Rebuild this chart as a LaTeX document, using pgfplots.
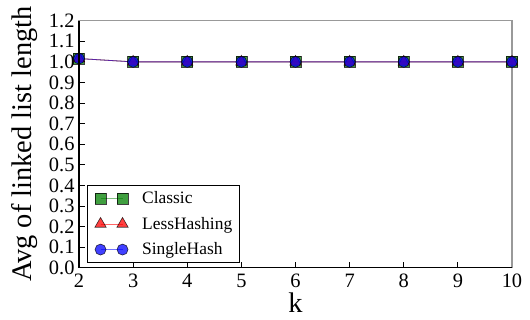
\documentclass[border=0pt]{standalone}
\usepackage{fontspec}
\setmainfont{Liberation Serif}
\usepackage{pgfplots}
\pgfplotsset{compat=1.18}
\definecolor{cgreen}{RGB}{0,128,0}
\definecolor{cred}{RGB}{255,0,0}
\definecolor{cblue}{RGB}{0,0,255}
\newcommand{\lf}{\fontsize{17.5}{17.5}\selectfont}
\begin{document}
\begin{tikzpicture}
\begin{axis}[
  scale only axis, width=433bp, height=247bp,
  xmin=2, xmax=10, ymin=0, ymax=1.2,
  xtick={2,3,4,5,6,7,8,9,10},
  ytick={0,0.1,0.2,0.3,0.4,0.5,0.6,0.7,0.8,0.9,1.0,1.1,1.2},
  yticklabel style={/pgf/number format/fixed, /pgf/number format/fixed zerofill, /pgf/number format/precision=1, xshift=-1bp},
  xticklabel style={yshift=-3bp},
  /pgf/number format/assume math mode=true,
  tick label style={font=\fontsize{20.5}{20.5}\selectfont},
  xtick pos=left, ytick pos=left, tick align=inside,
  major tick length=6bp,
  tick style={black, line width=0.8pt},
  axis line style={gray!80, line width=1.2pt},
  xlabel={k}, ylabel={Avg of linked list length},
  label style={font=\fontsize{28.5}{28.5}\selectfont},
  xlabel style={yshift=2bp},
  ylabel style={yshift=4bp},
  legend cell align=left,
  legend style={at={(0.0185,0.02)}, anchor=south west, draw=black, line width=0.8pt,
    font=\lf, nodes={inner sep=0bp}, row sep=12bp, column sep=14bp,
    inner xsep=7.5bp, inner ysep=6bp},
  legend image code/.code={\draw[#1] plot coordinates {(0bp,0bp) (22bp,0bp)};},
]
\addplot[color=cgreen, draw opacity=0.5, line width=0.8pt, mark=square*, mark size=5.5bp,
  mark options={draw=black, fill=cgreen, fill opacity=0.75, draw opacity=0.75, line width=0.6pt}]
  coordinates {(2,1.016) (3,1.0) (4,1.0) (5,1.0) (6,1.0) (7,1.0) (8,1.0) (9,1.0) (10,1.0)};
\addlegendentry{\lf Classic}
\addplot[color=cred, draw opacity=0.6, line width=0.8pt, mark=triangle*, mark size=6.5bp,
  mark options={draw=black, fill=cred, fill opacity=0.75, draw opacity=0.75, line width=0.6pt}]
  coordinates {(2,1.016) (3,1.0) (4,1.0) (5,1.0) (6,1.0) (7,1.0) (8,1.0) (9,1.0) (10,1.0)};
\addlegendentry{\lf LessHashing}
\addplot[color=cblue, draw opacity=0.55, line width=0.8pt, mark=*, mark size=5.5bp,
  mark options={draw=black, fill=cblue, fill opacity=0.75, draw opacity=0.75, line width=0.6pt}]
  coordinates {(2,1.016) (3,1.0) (4,1.0) (5,1.0) (6,1.0) (7,1.0) (8,1.0) (9,1.0) (10,1.0)};
\addlegendentry{\lf SingleHash}
\end{axis}
\draw[black, line width=1.2pt] (current axis.north west) -- (current axis.south west) -- (current axis.south east);
\pgfresetboundingbox
\path ([shift={(-79bp,-52bp)}]current axis.south west) rectangle ([shift={(18bp,20.7bp)}]current axis.north east);
\end{tikzpicture}
\end{document}
